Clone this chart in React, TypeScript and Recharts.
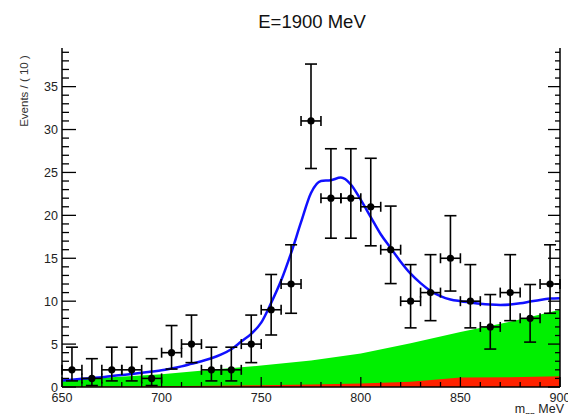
import React from "react";
import { Area, ComposedChart, ErrorBar, Line, Scatter, XAxis, YAxis } from "recharts";

// fit curve (total pdf), read every 5 MeV
const fitMass = [
  650, 655, 660, 665, 670, 675, 680, 685, 690, 695, 700, 705, 710, 715, 720, 725, 730,
  735, 740, 745, 750, 755, 760, 765, 770, 775, 780, 785, 790, 795, 800, 805, 810, 815,
  820, 825, 830, 835, 840, 845, 850, 855, 860, 865, 870, 875, 880, 885, 890, 895, 900,
];
const fitEvents = [
  0.75, 0.85, 0.95, 1.05, 1.15, 1.28, 1.4, 1.52, 1.65, 1.8, 1.95, 2.15, 2.4, 2.7, 3.0,
  3.35, 3.8, 4.4, 5.3, 6.2, 7.5, 9.8, 12.4, 15.6, 19.2, 22.6, 24.0, 24.1, 24.4, 23.6,
  21.8, 19.8, 17.8, 16.2, 14.6, 13.2, 12.1, 11.2, 10.6, 10.2, 10.0, 9.85, 9.7, 9.6,
  9.55, 9.6, 9.75, 9.95, 10.15, 10.3, 10.35,
];

// background components, read every 25 MeV
const bkgMass = [650, 675, 700, 725, 750, 775, 800, 825, 850, 875, 900];
const bkgEvents = [0.85, 1.15, 1.5, 2.0, 2.5, 3.1, 3.9, 5.1, 6.4, 7.6, 9.0];
const redEvents = [0.05, 0.07, 0.1, 0.15, 0.2, 0.3, 0.4, 0.6, 1.1, 1.15, 1.25];

// data histogram, 10 MeV bins
const binMass = [
  655, 665, 675, 685, 695, 705, 715, 725, 735, 745, 755, 765, 775, 785, 795, 805, 815,
  825, 835, 845, 855, 865, 875, 885, 895,
];
const binEvents = [2, 1, 2, 2, 1, 4, 5, 2, 2, 5, 9, 12, 31, 22, 22, 21, 16, 10, 11, 15, 10, 7, 11, 8, 12];
const errLow = [
  1.29, 0.83, 1.29, 1.29, 0.83, 1.91, 2.16, 1.29, 1.29, 2.16, 2.94, 3.41, 5.54, 4.66,
  4.66, 4.55, 3.95, 3.11, 3.27, 3.82, 3.11, 2.58, 3.27, 2.77, 3.41,
];
const errHigh = [
  2.64, 2.3, 2.64, 2.64, 2.3, 3.16, 3.38, 2.64, 2.64, 3.38, 4.11, 4.57, 6.63, 5.76,
  5.76, 5.65, 5.08, 4.26, 4.42, 4.96, 4.26, 3.77, 4.42, 3.94, 4.57,
];
const binHalfWidth = 5;

const xTicks = Array.from({ length: 26 }, (_, i) => 650 + i * 10);
const yTicks = Array.from({ length: 40 }, (_, i) => i);

const curveRows = fitMass.map((m, i) => {
  const j = bkgMass.indexOf(m);
  return {
    m,
    fit: fitEvents[i],
    bkg: j >= 0 ? bkgEvents[j] : null,
    red: j >= 0 ? redEvents[j] : null,
  };
});

const points = binMass.map((m, i) => ({
  m,
  n: binEvents[i],
  ey: [errLow[i], errHigh[i]],
  ex: binHalfWidth,
}));

const font = "'Liberation Sans', Arial, Helvetica, sans-serif";
const tickText = { fontFamily: font, fontSize: 12.5, fill: "#222" };

const LeftTick = (props: any) => {
  const { x, y, payload } = props;
  const major = payload.value % 5 === 0;
  return (
    <g>
      <line x1={x} x2={x + (major ? 14 : 7)} y1={y} y2={y} stroke="#000" strokeWidth={1.3} />
      {major && (
        <text x={x - 4} y={y + 4.5} textAnchor="end" {...tickText}>
          {payload.value}
        </text>
      )}
    </g>
  );
};

const RightTick = (props: any) => {
  const { x, y, payload } = props;
  const major = payload.value % 5 === 0;
  return <line x1={x} x2={x - (major ? 12 : 5)} y1={y} y2={y} stroke="#000" strokeWidth={1.3} />;
};

const BottomTick = (props: any) => {
  const { x, y, payload } = props;
  const major = payload.value % 50 === 0;
  return (
    <g>
      <line x1={x} x2={x} y1={y} y2={y - (major ? 10 : 5)} stroke="#000" strokeWidth={1.3} />
      {major && (
        <text x={x} y={y + 14.5} textAnchor="middle" {...tickText}>
          {payload.value}
        </text>
      )}
    </g>
  );
};

const TopTick = (props: any) => {
  const { x, y, payload } = props;
  const major = payload.value % 50 === 0;
  return <line x1={x} x2={x} y1={y} y2={y + (major ? 10 : 4)} stroke="#000" strokeWidth={1.3} />;
};

const Dot = (props: any) => <circle cx={props.cx} cy={props.cy} r={3.6} fill="#000" />;

export default function App() {
  return (
    <div style={{ position: "absolute", left: 0, top: 0, width: 568, height: 414, background: "#fff" }}>
      <ComposedChart
        width={568}
        height={414}
        data={curveRows}
        margin={{ top: 48, right: 0, bottom: 0, left: 0 }}
      >
        <Area
          type="linear"
          dataKey="bkg"
          stroke="none"
          fill="#00f000"
          fillOpacity={1}
          baseValue={0}
          connectNulls
          isAnimationActive={false}
        />
        <Area
          type="linear"
          dataKey="red"
          stroke="none"
          fill="#ff2200"
          fillOpacity={1}
          baseValue={0}
          connectNulls
          isAnimationActive={false}
        />
        <Line
          type="monotone"
          dataKey="fit"
          stroke="#1010ff"
          strokeWidth={2.5}
          dot={false}
          isAnimationActive={false}
        />
        <Scatter data={points} dataKey="n" shape={Dot} isAnimationActive={false}>
          <ErrorBar dataKey="ey" direction="y" width={6} stroke="#000" strokeWidth={1.6} />
          <ErrorBar dataKey="ex" direction="x" width={5} stroke="#000" strokeWidth={1.6} />
        </Scatter>
        <XAxis
          dataKey="m"
          type="number"
          domain={[650, 900]}
          ticks={xTicks}
          interval={0}
          height={27}
          tickSize={0}
          tickMargin={0}
          tick={BottomTick}
          axisLine={{ stroke: "#000", strokeWidth: 1.5 }}
          allowDataOverflow
        />
        <XAxis
          xAxisId="t"
          orientation="top"
          type="number"
          domain={[650, 900]}
          ticks={xTicks}
          interval={0}
          height={0}
          tickSize={0}
          tickMargin={0}
          tick={TopTick}
          axisLine={{ stroke: "#000", strokeWidth: 1.5 }}
          allowDataOverflow
        />
        <YAxis
          type="number"
          domain={[0, 39.5]}
          ticks={yTicks}
          interval={0}
          width={62}
          tickSize={0}
          tickMargin={0}
          tick={LeftTick}
          axisLine={{ stroke: "#000", strokeWidth: 1.5 }}
          allowDataOverflow
        />
        <YAxis
          yAxisId="r"
          orientation="right"
          type="number"
          domain={[0, 39.5]}
          ticks={yTicks}
          interval={0}
          width={8}
          tickSize={0}
          tickMargin={0}
          tick={RightTick}
          axisLine={{ stroke: "#000", strokeWidth: 1.5 }}
          allowDataOverflow
        />
        <text x={312} y={28} textAnchor="middle" fontFamily={font} fontSize={18.5} fill="#111">
          E=1900 MeV
        </text>
        <text
          x={28}
          y={91}
          transform="rotate(-90, 28, 91)"
          textAnchor="middle"
          fontFamily={font}
          fontSize={11.5}
          fill="#333"
        >
          Events / ( 10 )
        </text>
        <text x={564} y={413} textAnchor="end" fontFamily={font} fontSize={12.5} fill="#222">
          m
          <tspan fontSize={7} dy={4}>ππ</tspan>
          <tspan dy={-4}> MeV</tspan>
        </text>
      </ComposedChart>
    </div>
  );
}
